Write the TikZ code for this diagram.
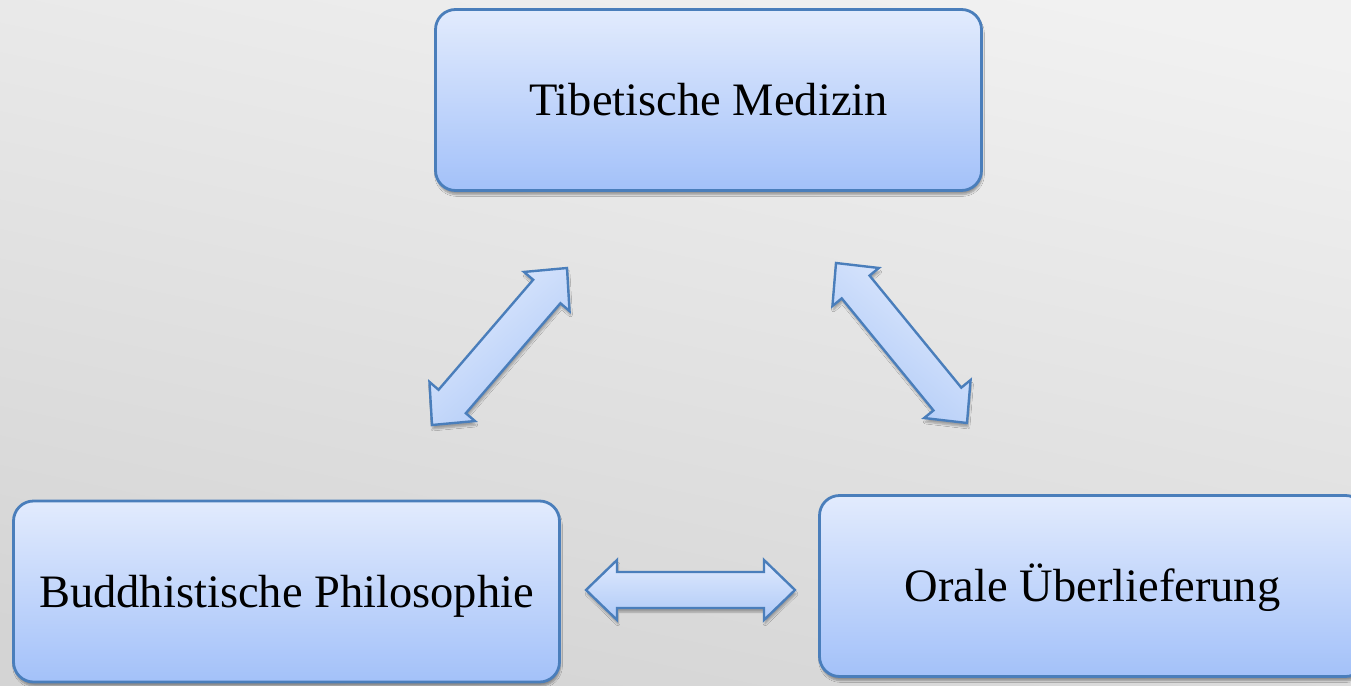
\documentclass[tikz,border=0pt]{standalone}
\usepackage{fontspec}
\setmainfont{Liberation Serif}
\usetikzlibrary{calc,shadows.blur}
\definecolor{bgtop}{HTML}{F1F1F1}
\definecolor{bgbot}{HTML}{D4D4D4}
\definecolor{edge}{RGB}{74,126,187}
\definecolor{boxtop}{RGB}{226,235,253}
\definecolor{boxbot}{RGB}{163,193,249}
\definecolor{arrtop}{RGB}{224,234,253}
\definecolor{arrbot}{RGB}{174,201,247}
\tikzset{
  box/.style={draw=edge, line width=2.8pt, rounded corners=20pt,
    top color=boxtop, bottom color=boxbot,
    minimum width=546pt, minimum height=181pt, inner sep=0pt,
    font=\fontsize{46.5}{56}\selectfont, text height=31pt, text depth=0pt,
    blur shadow={shadow xshift=1pt, shadow yshift=-4pt, shadow blur steps=6, shadow opacity=35}},
  blockarr/.style={draw=edge, line width=2.4pt, line join=miter,
    top color=arrtop, bottom color=arrbot,
    blur shadow={shadow xshift=1pt, shadow yshift=-4pt, shadow blur steps=5, shadow opacity=30}}
}
% #1 name, #2 tip A, #3 tip B, #4 shading angle
\newcommand\blockarrow[4]{%
  \coordinate (#1a) at ($(#2)!31pt!(#3)$);
  \coordinate (#1b) at ($(#3)!31pt!(#2)$);
  \draw[blockarr, shading angle=#4] (#2)
    -- ($(#1a)!30pt!90:(#3)$) -- ($(#1a)!18pt!90:(#3)$)
    -- ($(#1b)!18pt!-90:(#2)$) -- ($(#1b)!30pt!-90:(#2)$)
    -- (#3)
    -- ($(#1b)!30pt!90:(#2)$) -- ($(#1b)!18pt!90:(#2)$)
    -- ($(#1a)!18pt!-90:(#3)$) -- ($(#1a)!30pt!-90:(#3)$)
    -- cycle;
}
\begin{document}
\begin{tikzpicture}[x=1pt, y=-1pt]
  \useasboundingbox (0,0) rectangle (1351,685);
  \clip (0,0) rectangle (1351,685);
  \fill[top color=bgtop, bottom color=bgbot, shading angle=-12] (-20,-20) rectangle (1371,705);

  \node[box] (med) at (708.5,100) {Tibetische Medizin};
  \node[box] (phil) at (286.5,591.5) {Buddhistische Philosophie};
  \node[box] (oral) at (1092.5,586) {Orale Überlieferung};

  \coordinate (l1) at (567,268);
  \coordinate (l2) at (432,425);
  \coordinate (r1) at (836,263);
  \coordinate (r2) at (967,423);
  \coordinate (h1) at (586,590);
  \coordinate (h2) at (795,590);

  \blockarrow{la}{l1}{l2}{41}
  \blockarrow{ra}{r1}{r2}{-39}
  \blockarrow{ha}{h1}{h2}{0}
\end{tikzpicture}
\end{document}
